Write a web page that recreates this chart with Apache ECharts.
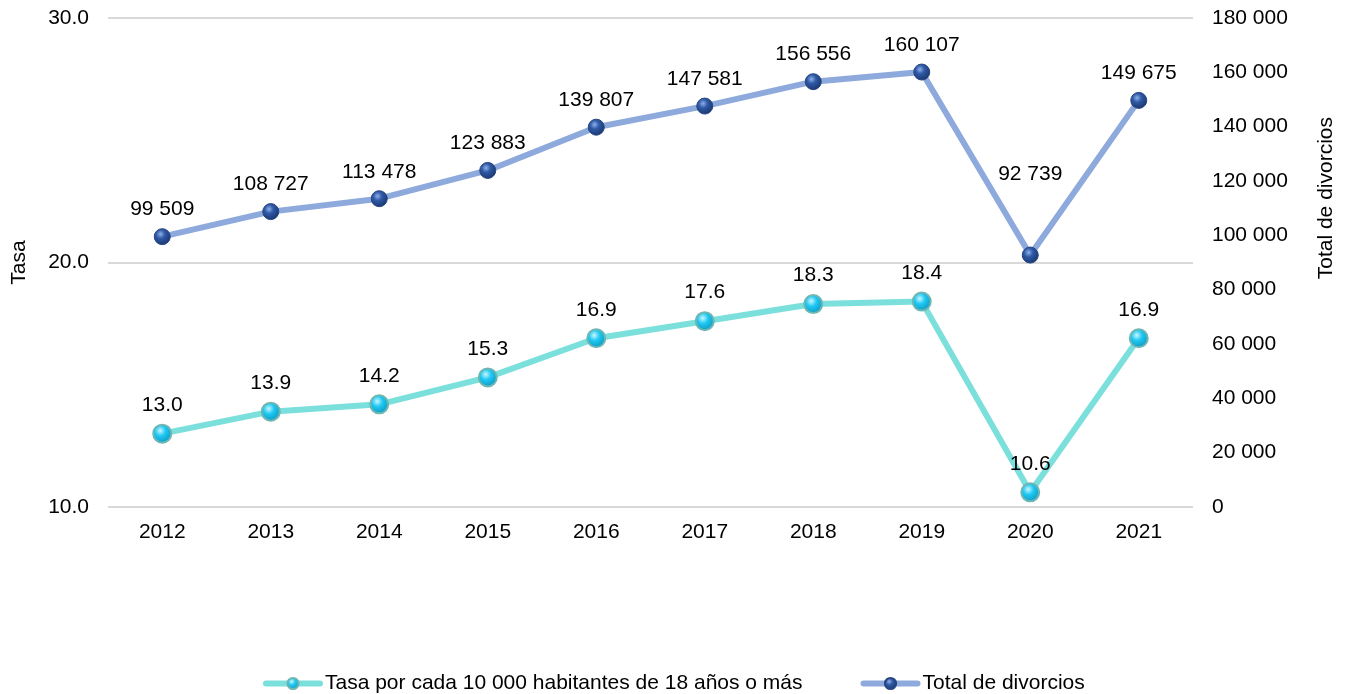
<!DOCTYPE html>
<html>
<head>
<meta charset="utf-8">
<script src="https://cdn.jsdelivr.net/npm/echarts@6/dist/echarts.min.js"></script>
<style>
  html, body { margin: 0; padding: 0; background: #fff; }
  #chart { width: 1348px; height: 694px; }
</style>
</head>
<body>
<div id="chart"></div>
<script>
var years = ['2012', '2013', '2014', '2015', '2016', '2017', '2018', '2019', '2020', '2021'];
var tasa = [13.0, 13.9, 14.2, 15.3, 16.9, 17.6, 18.3, 18.4, 10.6, 16.9];
var totalDivorcios = [99509, 108727, 113478, 123883, 139807, 147581, 156556, 160107, 92739, 149675];

function miles(v) {
  return String(Math.round(v)).replace(/\B(?=(\d{3})+(?!\d))/g, ' ');
}

var font = 'Liberation Sans, Arial, sans-serif';
var fs = 21;
var chart = echarts.init(document.getElementById('chart'));

// the 2020 label of the totals sits well above its point in the original
var totalData = totalDivorcios.map(function (v, i) {
  if (years[i] === '2020') return { value: v, label: { distance: 62 } };
  return v;
});

chart.setOption({
  animation: false,
  textStyle: { fontFamily: font, color: '#000' },
  grid: { left: 108, right: 155, top: 18, bottom: 187, outerBoundsMode: 'none' },
  legend: {
    top: 668,
    left: 258,
    itemWidth: 54,
    itemHeight: 14,
    itemGap: 58,
    lineStyle: { width: 6, cap: 'round' },
    textStyle: { fontFamily: font, fontSize: fs, color: '#000' },
    data: ['Tasa por cada 10 000 habitantes de 18 años o más', 'Total de divorcios']
  },
  xAxis: {
    type: 'category',
    data: years,
    axisLine: { show: false },
    axisTick: { show: false },
    axisLabel: { fontSize: fs, color: '#000', margin: 15 }
  },
  yAxis: [{
    type: 'value',
    min: 10, max: 30, interval: 10,
    name: 'Tasa',
    nameLocation: 'middle',
    nameGap: 78,
    nameTextStyle: { fontSize: fs, color: '#000' },
    axisLine: { show: false },
    axisTick: { show: false },
    axisLabel: { fontSize: fs, color: '#000', margin: 19, formatter: function (v) { return v.toFixed(1); } },
    splitLine: { lineStyle: { color: '#d9d9d9', width: 2 } }
  }, {
    type: 'value',
    min: 0, max: 180000, interval: 20000,
    axisLine: { show: false },
    axisTick: { show: false },
    axisLabel: { fontSize: fs, color: '#000', margin: 19, formatter: miles },
    splitLine: { show: false }
  }],
  graphic: [{
    type: 'text',
    left: 1316,
    top: 117,
    rotation: Math.PI / 2,
    style: { text: 'Total de divorcios', font: fs + 'px ' + font, fill: '#000' }
  }],
  series: [{
    name: 'Tasa por cada 10 000 habitantes de 18 años o más',
    type: 'line',
    yAxisIndex: 0,
    data: tasa,
    symbol: 'circle',
    symbolSize: 18,
    lineStyle: { color: '#7be0dc', width: 6 },
    itemStyle: {
      color: new echarts.graphic.RadialGradient(0.4, 0.35, 0.6, [
        { offset: 0, color: '#c8f6ff' },
        { offset: 0.45, color: '#1ec8f2' },
        { offset: 1, color: '#0f9ec8' }
      ]),
      borderColor: '#6fb7b3',
      borderWidth: 2
    },
    label: {
      show: true, position: 'top', distance: 8,
      fontSize: fs, color: '#000',
      formatter: function (p) { return p.value.toFixed(1); }
    }
  }, {
    name: 'Total de divorcios',
    type: 'line',
    yAxisIndex: 1,
    data: totalData,
    symbol: 'circle',
    symbolSize: 16,
    lineStyle: { color: '#8eaadc', width: 6 },
    itemStyle: {
      color: new echarts.graphic.RadialGradient(0.4, 0.35, 0.65, [
        { offset: 0, color: '#8fb0ea' },
        { offset: 0.4, color: '#2f5aa6' },
        { offset: 1, color: '#1b3670' }
      ]),
      borderColor: '#27467f',
      borderWidth: 1
    },
    label: {
      show: true, position: 'top', distance: 8,
      fontSize: fs, color: '#000',
      formatter: function (p) { return miles(p.value); }
    }
  }]
});
</script>
</body>
</html>
